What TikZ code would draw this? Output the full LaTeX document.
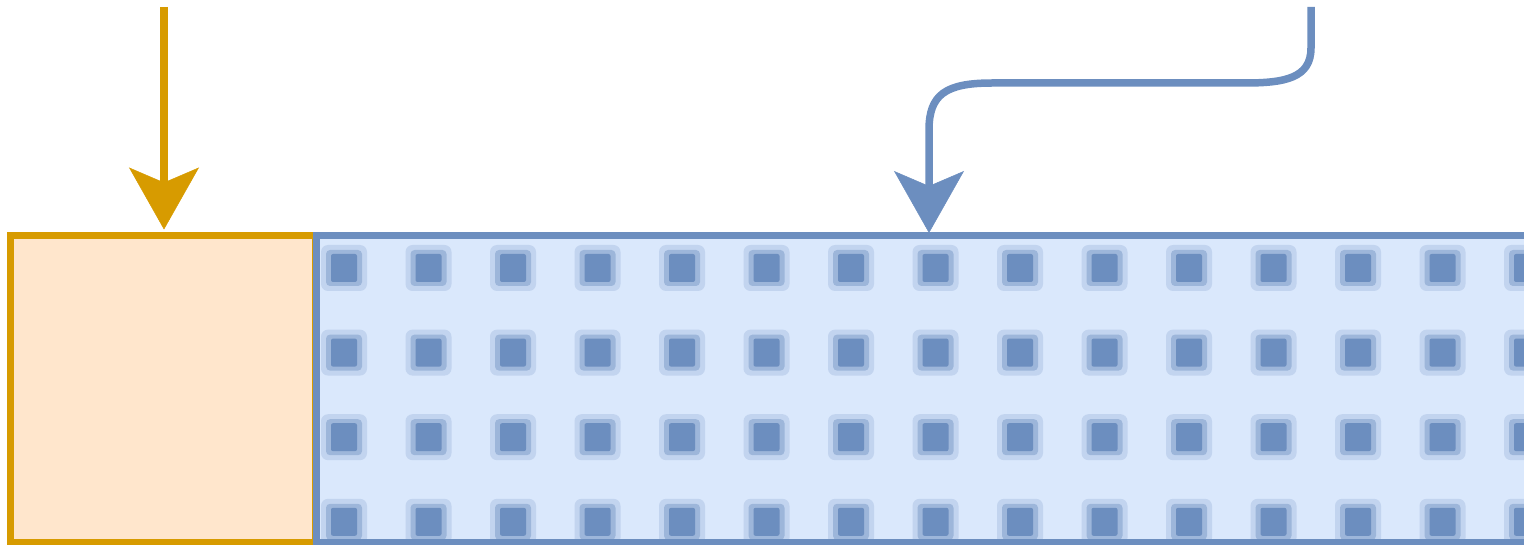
\documentclass[tikz,border=0pt]{standalone}
\usetikzlibrary{arrows.meta,calc}
\definecolor{ostroke}{HTML}{D79B00}
\definecolor{ofill}{HTML}{FFE6CC}
\definecolor{bstroke}{HTML}{6C8EBF}
\definecolor{bfill}{HTML}{DAE8FC}
\tikzset{
  boxline/.style={line width=7pt},
  obox/.style={boxline, draw=ostroke, fill=ofill, rectangle, inner sep=0pt, minimum width=305pt, minimum height=306pt},
  bboxstyle/.style={fill=bfill, rectangle, inner sep=0pt, outer sep=0pt, minimum width=1300pt, minimum height=306pt},
  bborder/.style={boxline, draw=bstroke},
  conn/.style={line width=7.5pt, line cap=butt, -{Stealth[length=62pt,width=70pt,inset=15pt,line width=0.5pt]}, shorten >=3pt},
  oconn/.style={conn, draw=ostroke},
  bconn/.style={conn, draw=bstroke},
  dothalo/.style={fill=bstroke!22!bfill, rounded corners=7pt},
  dotmid/.style={fill=bstroke!55!bfill, rounded corners=4pt},
  dotcore/.style={fill=bstroke, rounded corners=2pt}
}
\begin{document}
\begin{tikzpicture}[x=1pt,y=-1pt]
\clip (0,0) rectangle (1524,545);
\useasboundingbox (0,0) rectangle (1524,545);
\node[obox] (obox) at (162.5,389) {};
\node[bboxstyle] (bbox) at (966,389) {};
\begin{scope}
  \clip (bbox.north west) rectangle (bbox.south east);
  \foreach \i in {0,...,14} {
    \foreach \j in {0,...,3} {
      \pgfmathsetmacro{\cx}{344+84.5*\i}
      \pgfmathsetmacro{\cy}{268+84.6*\j}
      \fill[dothalo] (\cx-23,\cy-23) rectangle (\cx+23,\cy+23);
      \fill[dotmid] (\cx-18,\cy-18) rectangle (\cx+18,\cy+18);
      \fill[dotcore] (\cx-13,\cy-14) rectangle (\cx+13,\cy+14);
    }
  }
\end{scope}
\draw[bborder] (bbox.north west) rectangle (bbox.south east);
\coordinate (ostart) at (164,7);
\coordinate (bstart) at (1311,7);
\coordinate (btarget) at (929,236);
\draw[oconn] (ostart) -- (ostart |- obox.north);
\draw[bconn] (bstart) -- (1311,48) .. controls (1311,78) and (1285,83) .. (1245,83) -- (992,83) .. controls (945,83) and (929,95) .. (929,130) -- (btarget);
\end{tikzpicture}
\end{document}
